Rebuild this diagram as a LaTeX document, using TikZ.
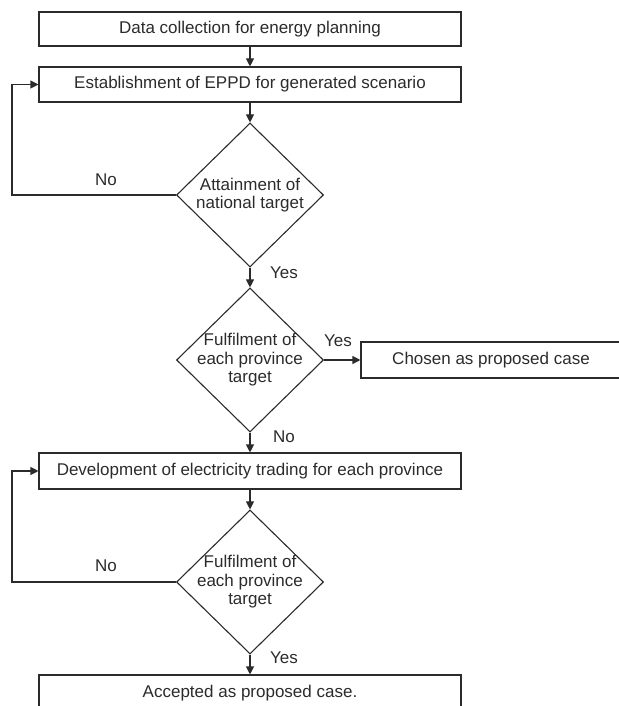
\documentclass[tikz,border=0pt]{standalone}
\usepackage{fontspec}
\setmainfont{Liberation Sans}
\usepackage{tikz}
\usetikzlibrary{arrows.meta,shapes.geometric}
\definecolor{ink}{HTML}{2B2B2B}
\tikzset{
  every picture/.style={line join=miter, >={Triangle[length=8pt,width=8pt]}},
  box/.style={draw=ink, line width=1.1pt, rectangle, minimum width=422pt, inner sep=0pt, text=ink, font=\fontsize{17}{18.5}\selectfont},
  decision/.style={draw=ink, line width=1.1pt, diamond, minimum width=147pt, minimum height=144pt, inner sep=0pt},
  dtext/.style={align=center, text=ink, font=\fontsize{17}{18.5}\selectfont},
  flow/.style={->, draw=ink, line width=1.1pt},
  lbl/.style={text=ink, inner sep=0pt, font=\fontsize{17}{18.5}\selectfont},
}

\begin{document}
\begin{tikzpicture}[x=1pt,y=-1pt]
\useasboundingbox (0,0) rectangle (618,706);
\node[box,minimum height=34pt] (collect) at (250,29) {Data collection for energy planning};
\node[box,minimum height=35pt] (eppd) at (250,84.5) {Establishment of EPPD for generated scenario};
\node[decision] (national) at (250,195) {};
\node[dtext] (nationaltxt) at (national) {Attainment of\\national target};
\node[decision] (province) at (250,360) {};
\node[dtext] (provincetxt) at (province) {Fulfilment of\\each province\\target};
\node[box,minimum width=260pt,minimum height=36pt] (chosen) at (491,360) {Chosen as proposed case};
\node[box,minimum height=36pt] (trading) at (250,471) {Development of electricity trading for each province};
\node[decision] (provincetwo) at (250,582) {};
\node[dtext] (provincetwotxt) at (provincetwo) {Fulfilment of\\each province\\target};
\node[box,minimum height=36pt] (accepted) at (250,693) {Accepted as proposed case.};
\coordinate (loopa) at (12,195);
\coordinate (loopb) at (12,84.5);
\coordinate (loopc) at (12,582);
\coordinate (loopd) at (12,471);
% main flow
\draw[flow] (collect) -- (eppd);
\draw[flow] (eppd) -- (national);
\draw[flow] (national) -- (province);
\draw[flow] (province) -- (chosen);
\draw[flow] (province) -- (trading);
\draw[flow] (trading) -- (provincetwo);
\draw[flow] (provincetwo) -- (accepted);
% feedback loops
\draw[flow] (national.west) -- (loopa) -- (loopb) -- (eppd.west);
\draw[flow] (provincetwo.west) -- (loopc) -- (loopd) -- (trading.west);
% branch labels
\node[lbl] (noa) at (106,180) {No};
\node[lbl] (yesa) at (284,273) {Yes};
\node[lbl] (yesb) at (338,341) {Yes};
\node[lbl] (nob) at (284,437) {No};
\node[lbl] (noc) at (106,566) {No};
\node[lbl] (yesc) at (284,658) {Yes};
\end{tikzpicture}
\end{document}
